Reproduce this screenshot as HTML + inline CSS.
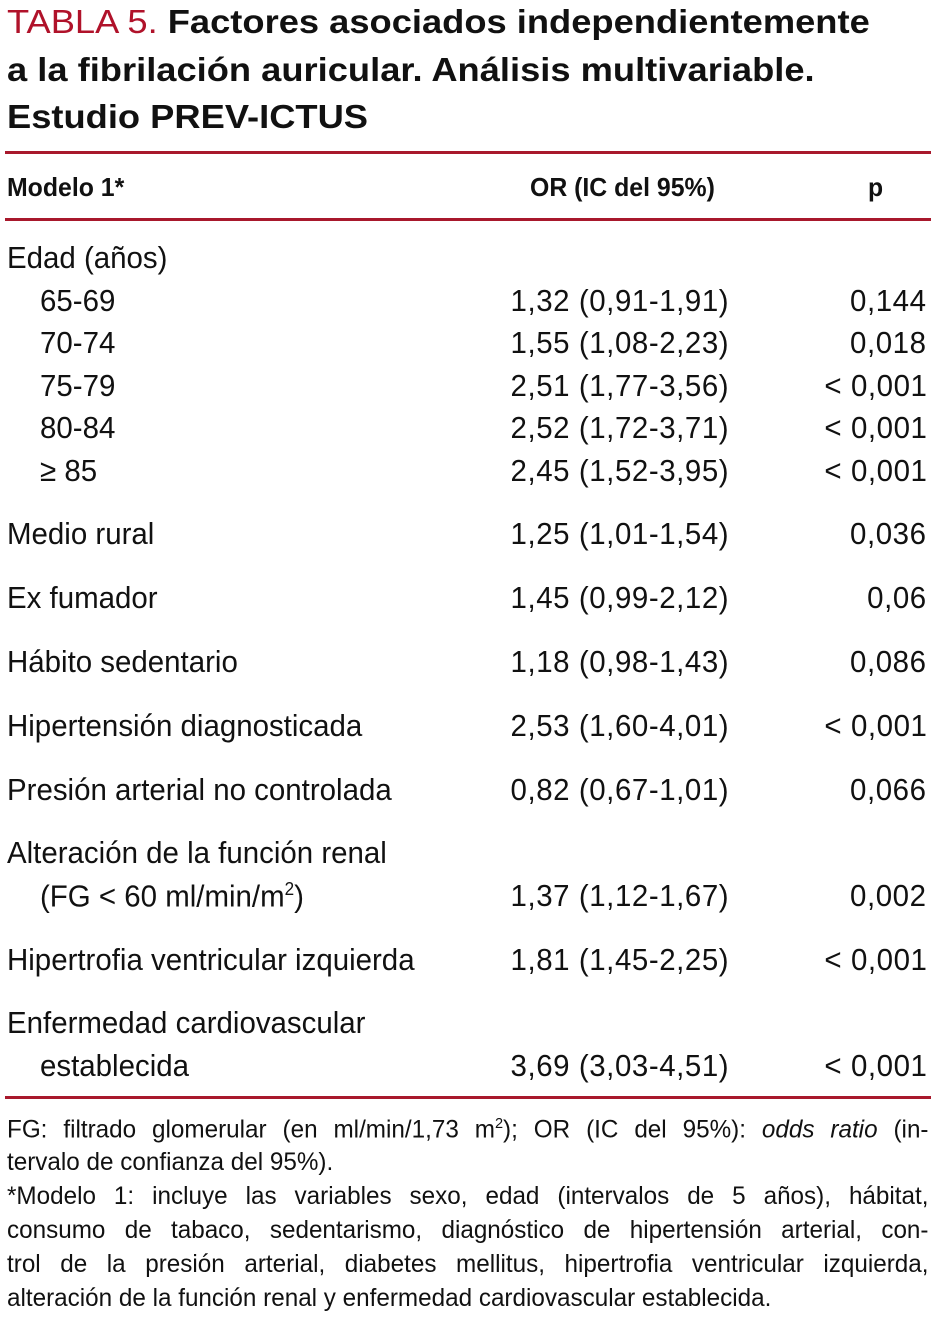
<!DOCTYPE html>
<html><head><meta charset="utf-8">
<style>
body{margin:0;width:938px;height:1330px;background:#fff;position:relative;overflow:hidden;font-family:"Liberation Sans",sans-serif;color:#111}
.t{position:absolute;white-space:nowrap;line-height:1}
.ti{font-size:33px;font-weight:bold;left:7px;transform:scaleX(1.1);transform-origin:left center}
.c{transform:scaleX(.95);transform-origin:left center;font-size:31px}
.r{transform:scaleX(.95);transform-origin:right center;font-size:31px;text-align:right;letter-spacing:.6px}
.rule{position:absolute;left:5px;width:926px;height:3px;background:#a8182c}
.fn{position:absolute;left:7px;width:950px;font-size:25px;line-height:1;white-space:nowrap;text-align:justify;text-align-last:justify;transform:scaleX(.97);transform-origin:left center}
</style></head><body>
<div class="t ti" style="top:5px"><span style="color:#b0122a;font-weight:normal">TABLA 5.</span> Factores asociados independientemente</div>
<div class="t ti" style="top:53px">a la fibrilación auricular. Análisis multivariable.</div>
<div class="t ti" style="top:100px">Estudio PREV-ICTUS</div>
<div class="rule" style="top:151px"></div>
<div class="t c" style="top:174px;left:7px;font-size:26px;font-weight:bold;transform:scaleX(.955)">Modelo 1*</div>
<div class="t c" style="top:174px;left:530px;font-size:26px;font-weight:bold;transform:scaleX(.955)">OR (IC del 95%)</div>
<div class="t c" style="top:174px;left:868px;font-size:26px;font-weight:bold">p</div>
<div class="rule" style="top:218px"></div>
<div id="rows"></div>
<div class="rule" style="top:1096px"></div>
<div class="fn" style="top:1116px">FG: filtrado glomerular (en ml/min/1,73 m<sup style="font-size:15px">2</sup>); OR (IC del 95%): <i>odds ratio</i> (in-</div>
<div class="fn" style="top:1150px;text-align-last:left">tervalo de confianza del 95%).</div>
<div class="fn" style="top:1184px">*Modelo 1: incluye las variables sexo, edad (intervalos de 5 años), hábitat,</div>
<div class="fn" style="top:1218px">consumo de tabaco, sedentarismo, diagnóstico de hipertensión arterial, con-</div>
<div class="fn" style="top:1252px">trol de la presión arterial, diabetes mellitus, hipertrofia ventricular izquierda,</div>
<div class="fn" style="top:1286px;text-align-last:left">alteración de la función renal y enfermedad cardiovascular establecida.</div>
<script>
const labels=["Edad (años)","65-69","70-74","75-79","80-84","≥ 85","Medio rural","Ex fumador","Hábito sedentario","Hipertensión diagnosticada","Presión arterial no controlada","Alteración de la función renal","(FG < 60 ml/min/m<sup style='font-size:18px'>2</sup>)","Hipertrofia ventricular izquierda","Enfermedad cardiovascular","establecida"];
const ors=["","1,32 (0,91-1,91)","1,55 (1,08-2,23)","2,51 (1,77-3,56)","2,52 (1,72-3,71)","2,45 (1,52-3,95)","1,25 (1,01-1,54)","1,45 (0,99-2,12)","1,18 (0,98-1,43)","2,53 (1,60-4,01)","0,82 (0,67-1,01)","","1,37 (1,12-1,67)","1,81 (1,45-2,25)","","3,69 (3,03-4,51)"];
const ps=["","0,144","0,018","< 0,001","< 0,001","< 0,001","0,036","0,06","0,086","< 0,001","0,066","","0,002","< 0,001","","< 0,001"];
const ys=[257,300,342,385,427,470,533,597,661,725,789,852,895,959,1022,1065];
const indent=[0,1,1,1,1,1,0,0,0,0,0,0,1,0,0,1];
const root=document.getElementById('rows');
labels.forEach((l,i)=>{
  const a=document.createElement('div');a.className='t c';a.style.top=(ys[i]-15)+'px';a.style.left=(indent[i]?40:7)+'px';a.innerHTML=l;
  
  
  root.appendChild(a);
  if(ors[i]){
    const b=document.createElement('div');b.className='t r';b.style.top=(ys[i]-15)+'px';b.style.right=(938-729)+'px';b.textContent=ors[i];
    
    
    root.appendChild(b);
    const c=document.createElement('div');c.className='t r';c.style.top=(ys[i]-15)+'px';c.style.right=(938-927)+'px';c.textContent=ps[i];
    
    
    root.appendChild(c);
  }
});
</script>
</body></html>
